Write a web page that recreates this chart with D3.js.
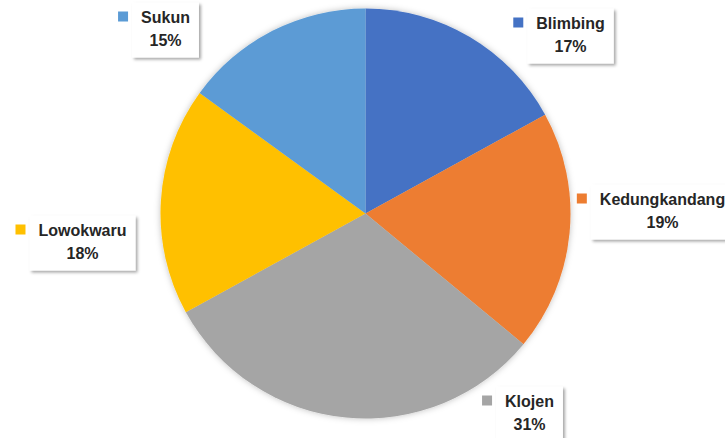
<!DOCTYPE html>
<html>
  <head>
    <meta charset="utf-8" />
    <script src="https://d3js.org/d3.v7.min.js"></script>
    <style>
      body { margin: 0; background: #ffffff; }
      .lbl { font-family: "Liberation Sans", Arial, sans-serif; font-weight: bold; font-size: 16px; fill: #262626; }
      .lblbox { fill: #ffffff; }
    </style>
  </head>
  <body>
    <svg width="725" height="438"></svg>

    <script type="text/javascript">
    // data (percent share per kecamatan)
    var categories = ["Blimbing", "Kedungkandang", "Klojen", "Lowokwaru", "Sukun"];
    var values = [17, 19, 31, 18, 15];
    var colors = ["#4472C4", "#ED7D31", "#A5A5A5", "#FFC000", "#5B9BD5"];

    // where each label's text sits, relative to the pie centre (layout only)
    var labelOffsets = [[205, -185], [297, -9], [164, 193], [-283, 22], [-200, -191]];

    var cx = 365.5, cy = 213.5, R = 205;

    var svg = d3.select("svg");
    var defs = svg.append("defs");

    var glow = defs.append("filter").attr("id", "pieShadow")
        .attr("x", "-10%").attr("y", "-10%").attr("width", "120%").attr("height", "120%");
    glow.append("feDropShadow").attr("dx", 0).attr("dy", 0)
        .attr("stdDeviation", 3).attr("flood-color", "#000").attr("flood-opacity", 0.25);

    var boxShadow = defs.append("filter").attr("id", "boxShadow")
        .attr("x", "-20%").attr("y", "-20%").attr("width", "150%").attr("height", "150%");
    boxShadow.append("feDropShadow").attr("dx", 2).attr("dy", 2)
        .attr("stdDeviation", 1.6).attr("flood-color", "#000").attr("flood-opacity", 0.35);

    var color = d3.scaleOrdinal().domain(categories).range(colors);

    var pie = d3.pie().sort(null).value(function(d) { return d.v; });
    var arc = d3.arc().innerRadius(0).outerRadius(R);

    var rows = categories.map(function(c, i) { return { name: c, v: values[i], i: i }; });
    var total = d3.sum(values);

    var g = svg.append("g").attr("transform", "translate(" + cx + "," + cy + ")");

    g.append("g").attr("filter", "url(#pieShadow)")
      .selectAll("path")
      .data(pie(rows))
      .enter().append("path")
        .attr("d", arc)
        .attr("fill", function(d) { return color(d.data.name); });

    // labels
    var labels = g.selectAll(".label")
      .data(rows)
      .enter().append("g")
        .attr("class", "label")
        .attr("transform", function(d) {
          var o = labelOffsets[d.i];
          return "translate(" + o[0] + "," + o[1] + ")";
        });

    labels.each(function(d) {
      var lg = d3.select(this);
      var box = lg.append("rect").attr("class", "lblbox").attr("filter", "url(#boxShadow)");
      var t1 = lg.append("text").attr("class", "lbl").attr("text-anchor", "middle")
          .attr("x", 0).attr("y", 0).text(d.name);
      var t2 = lg.append("text").attr("class", "lbl").attr("text-anchor", "middle")
          .attr("x", 0).attr("y", 23).text(d3.format(".0%")(d.v / total));
      var w = Math.max(t1.node().getComputedTextLength(), t2.node().getComputedTextLength()) + 18;
      box.attr("x", -w / 2).attr("y", -20).attr("width", w).attr("height", 55);
      lg.append("rect")
        .attr("x", -w / 2 - 14).attr("y", -11)
        .attr("width", 10).attr("height", 10)
        .attr("fill", color(d.name));
    });
    </script>
  </body>
</html>
